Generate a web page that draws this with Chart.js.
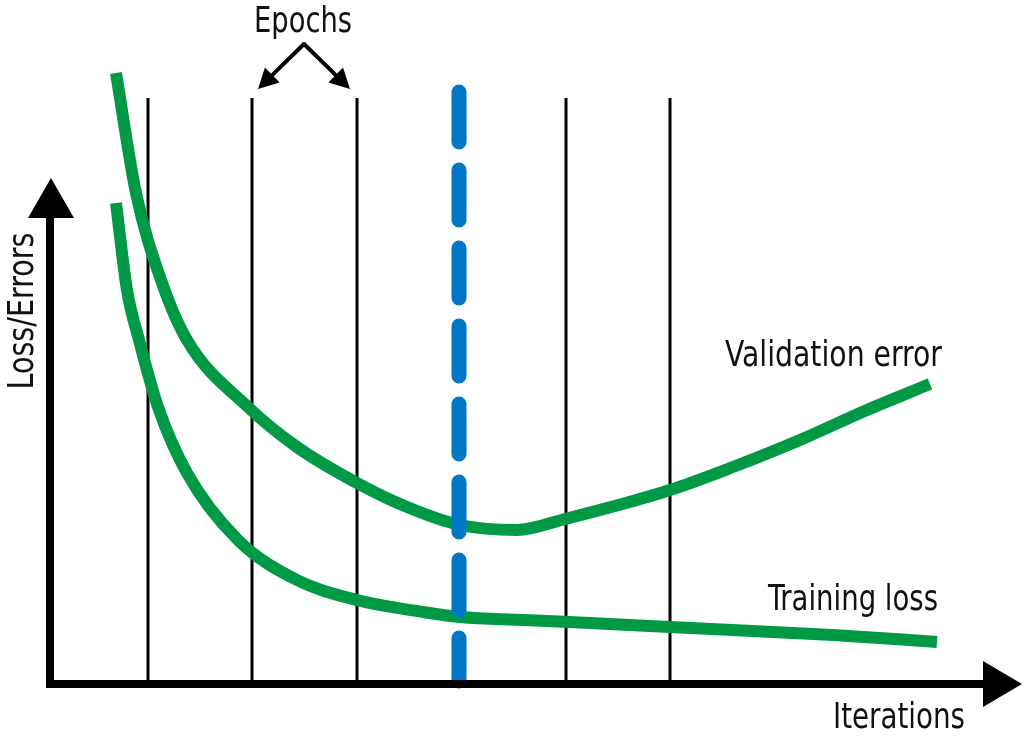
<!DOCTYPE html>
<html><head><meta charset="utf-8">
<script src="https://cdn.jsdelivr.net/npm/chart.js@4"></script>
<style>html,body{margin:0;padding:0;background:#fff}canvas{display:block}</style>
</head><body>
<canvas id="c" width="1024" height="737"></canvas>
<script>
// Iterations (x) and loss/error level (y)
const validationX = [66, 86, 111, 137, 198, 247, 307, 357, 410, 467, 515, 620, 683, 750, 817, 880];
const validationY = [611, 491, 404, 344, 277, 237, 201, 177, 159, 154, 165, 194, 217, 244, 274, 300];
const trainingX = [66, 77, 89, 108, 137, 188, 247, 307, 373, 410, 473, 540, 620, 783, 887];
const trainingY = [481, 394, 344, 277, 211, 144, 104, 84, 72, 67, 64, 61, 57, 49, 42];
const epochX = [98, 202, 307, 516, 620];
const epochTop = 586;
const stopX = 409;
const stopTop = 592;
const axisLabels = { x: 'Iterations', y: 'Loss/Errors' };
const seriesLabels = ['Validation error', 'Training loss'];
const epochLabel = 'Epochs';

const GREEN = '#009a46', BLUE = '#0076c6', INK = '#000000';
const FONT = '"DejaVu Sans Condensed", "DejaVu Sans", sans-serif';

const pts = (xs, ys) => xs.map((x, i) => ({ x, y: ys[i] }));

const datasets = [];
datasets.push({
  label: seriesLabels[0], data: pts(validationX, validationY),
  borderColor: GREEN, borderWidth: 12, pointRadius: 0, cubicInterpolationMode: 'monotone',
  borderCapStyle: 'butt', fill: false, order: 1
});
datasets.push({
  label: seriesLabels[1], data: pts(trainingX, trainingY),
  borderColor: GREEN, borderWidth: 12, pointRadius: 0, cubicInterpolationMode: 'monotone',
  borderCapStyle: 'butt', fill: false, order: 1
});
datasets.push({
  label: 'Stop', data: [{ x: stopX, y: stopTop }, { x: stopX, y: 3 }],
  borderColor: BLUE, borderWidth: 15, borderDash: [50, 28], borderCapStyle: 'round',
  pointRadius: 0, fill: false, order: 0
});
epochX.forEach(x => datasets.push({
  label: 'Epoch', data: [{ x, y: epochTop }, { x, y: 0 }],
  borderColor: INK, borderWidth: 3, pointRadius: 0, fill: false, order: 2
}));

function tri(ctx, tip, b1, b2) {
  ctx.beginPath(); ctx.moveTo(tip[0], tip[1]); ctx.lineTo(b1[0], b1[1]); ctx.lineTo(b2[0], b2[1]); ctx.closePath(); ctx.fill();
}
function arrowTo(ctx, x0, y0, x1, y1, len, half) {
  const a = Math.atan2(y1 - y0, x1 - x0);
  const bx = x1 - len * Math.cos(a), by = y1 - len * Math.sin(a);
  ctx.beginPath(); ctx.moveTo(x0, y0); ctx.lineTo(bx + 2 * Math.cos(a), by + 2 * Math.sin(a)); ctx.stroke();
  tri(ctx, [x1, y1], [bx - half * Math.sin(a), by + half * Math.cos(a)], [bx + half * Math.sin(a), by - half * Math.cos(a)]);
}
// draw text squeezed horizontally to a given width (condensed look)
function fitText(ctx, text, x, y, width, align) {
  const w = ctx.measureText(text).width;
  const s = width / w;
  ctx.save();
  ctx.translate(x, y);
  ctx.scale(s, 1);
  ctx.textAlign = align;
  ctx.fillText(text, 0, 0);
  ctx.restore();
}

const decor = {
  id: 'decor',
  afterDatasetsDraw(chart) {
    const { ctx, scales: { x: X, y: Y } } = chart;
    const px = v => X.getPixelForValue(v), py = v => Y.getPixelForValue(v);
    ctx.save();
    ctx.fillStyle = INK; ctx.strokeStyle = INK;
    // axes
    ctx.lineWidth = 8; ctx.lineCap = 'butt';
    ctx.beginPath(); ctx.moveTo(px(0), py(-4)); ctx.lineTo(px(0), py(467)); ctx.stroke();
    tri(ctx, [px(1), py(506)], [px(-22), py(466)], [px(24), py(466)]);
    ctx.beginPath(); ctx.moveTo(px(-4), py(0)); ctx.lineTo(px(934), py(0)); ctx.stroke();
    tri(ctx, [px(972), py(0)], [px(933), py(23)], [px(933), py(-23)]);
    // epoch arrows
    ctx.lineWidth = 4; ctx.lineCap = 'round'; ctx.lineJoin = 'round';
    arrowTo(ctx, px(254), py(640), px(208), py(595), 20, 10.5);
    arrowTo(ctx, px(254), py(640), px(300), py(595), 20, 10.5);
    // texts
    ctx.fillStyle = '#111';
    ctx.font = '36px ' + FONT;
    ctx.textBaseline = 'alphabetic';
    fitText(ctx, epochLabel, px(253), py(652), 98, 'center');
    fitText(ctx, axisLabels.x, px(849), py(-44), 132, 'center');
    fitText(ctx, seriesLabels[0], px(892), py(318), 217, 'right');
    fitText(ctx, seriesLabels[1], px(888), py(74), 170, 'right');
    ctx.save();
    ctx.translate(px(-17), py(373));
    ctx.rotate(-Math.PI / 2);
    fitText(ctx, axisLabels.y, 0, 0, 157, 'center');
    ctx.restore();
    ctx.restore();
  }
};

new Chart(document.getElementById('c'), {
  type: 'line',
  data: { datasets },
  options: {
    responsive: false, animation: false,
    layout: { padding: 0 },
    plugins: { legend: { display: false }, tooltip: { enabled: false } },
    scales: {
      x: { type: 'linear', min: -50, max: 974, display: false },
      y: { type: 'linear', min: -53, max: 684, display: false }
    }
  },
  plugins: [decor]
});
</script>
</body></html>
